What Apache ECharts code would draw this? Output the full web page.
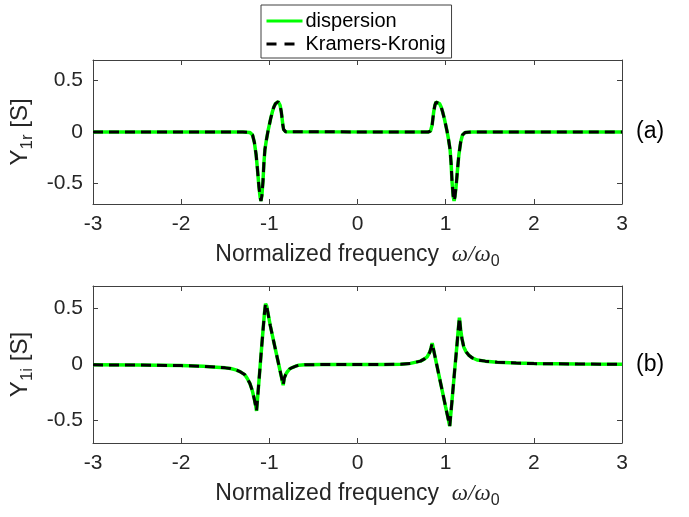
<!DOCTYPE html>
<html>
<head>
<meta charset="utf-8">
<script src="https://cdn.jsdelivr.net/npm/echarts@6/dist/echarts.min.js"></script>
<style>
  html, body { margin: 0; background: #fff; }
  #chart { width: 689px; height: 517px; }
</style>
</head>
<body>
<div id="chart"></div>
<script>
// tick labels
var xTicks = [-3, -2, -1, 0, 1, 2, 3];
var yTicks = [-0.5, 0, 0.5];

var topX = [-3, -1.3, -1.22, -1.19, -1.17, -1.15, -1.137, -1.118, -1.105, -1.095, -1.085, -1.072, -1.062, -1.05, -1.032, -1.015, -1.0, -0.985, -0.966, -0.95, -0.93, -0.91, -0.9, -0.89, -0.878, -0.865, -0.855, -0.847, -0.838, -0.828, -0.815, -0.8,
            0.8, 0.815, 0.828, 0.838, 0.847, 0.855, 0.865, 0.878, 0.89, 0.9, 0.91, 0.93, 0.95, 0.966, 0.985, 1.0, 1.015, 1.032, 1.05, 1.062, 1.072, 1.085, 1.095, 1.105, 1.118, 1.137, 1.15, 1.17, 1.19, 1.22, 1.3, 3];
var topY = [0, 0, -0.005, -0.03, -0.1, -0.22, -0.34, -0.53, -0.63, -0.67, -0.62, -0.48, -0.31, -0.17, -0.07, 0.01, 0.07, 0.13, 0.194, 0.24, 0.276, 0.293, 0.295, 0.29, 0.26, 0.2, 0.13, 0.07, 0.025, 0.008, 0.002, 0,
            0, 0.002, 0.008, 0.025, 0.07, 0.13, 0.2, 0.26, 0.29, 0.295, 0.293, 0.276, 0.24, 0.194, 0.13, 0.07, 0.01, -0.07, -0.17, -0.31, -0.48, -0.62, -0.67, -0.63, -0.53, -0.34, -0.22, -0.1, -0.03, -0.005, 0, 0];

// (b) imaginary part
var botX = [-3, -2.5, -2.0, -1.75, -1.6, -1.5, -1.44, -1.38, -1.327, -1.28, -1.25, -1.22, -1.194, -1.17, -1.155, -1.145, -1.12, -1.095, -1.07, -1.055, -1.043, -1.03, -0.99, -0.949, -0.9, -0.87, -0.843, -0.83, -0.815, -0.797, -0.77, -0.74, -0.7, -0.665, -0.6, -0.4,
            0.3, 0.49, 0.6, 0.714, 0.76, 0.79, 0.82, 0.835, 0.847, 0.9, 0.95, 1.0, 1.03, 1.046, 1.07, 1.1, 1.13, 1.145, 1.156, 1.17, 1.185, 1.205, 1.23, 1.262, 1.3, 1.357, 1.45, 1.584, 1.8, 2.0, 2.5, 3.0];
var botY = [-0.003, -0.005, -0.01, -0.016, -0.024, -0.03, -0.036, -0.048, -0.066, -0.09, -0.125, -0.17, -0.23, -0.31, -0.37, -0.413, -0.17, 0.08, 0.32, 0.46, 0.543, 0.52, 0.35, 0.2, 0.023, -0.085, -0.184, -0.12, -0.09, -0.066, -0.04, -0.027, -0.015, -0.006, -0.003, 0,
            0, 0.003, 0.01, 0.03, 0.05, 0.068, 0.11, 0.15, 0.19, -0.007, -0.193, -0.38, -0.49, -0.55, -0.34, -0.07, 0.19, 0.33, 0.418, 0.31, 0.23, 0.157, 0.115, 0.083, 0.06, 0.04, 0.03, 0.02, 0.013, 0.008, 0.004, 0.002];

function pairs(xs, ys) {
  return xs.map(function (x, i) { return [x, ys[i]]; });
}

var FONT = 'Liberation Sans';
var INK = '#262626';
var AXIS = '#404040';

function xAxes(grid) {
  var lineStyle = { color: AXIS, width: 1 };
  return [
    {
      gridIndex: grid, type: 'value', position: 'bottom',
      min: -3, max: 3, interval: 1,
      axisLine: { onZero: false, lineStyle: lineStyle },
      axisTick: { inside: true, length: 5, lineStyle: lineStyle },
      axisLabel: { margin: 10, color: INK, fontFamily: FONT, fontSize: 21 },
      splitLine: { show: false },
      name: 'Normalized frequency  {i|ω/ω}{s|0}',
      nameLocation: 'middle', nameGap: 36,
      nameTextStyle: {
        color: INK, fontFamily: FONT, fontSize: 23,
        rich: {
          i: { fontFamily: 'Liberation Serif', fontStyle: 'italic', fontSize: 23, color: INK },
          s: { fontFamily: FONT, fontSize: 16, color: INK, padding: [14, 0, 0, 0] }
        }
      }
    },
    {
      gridIndex: grid, type: 'value', position: 'top',
      min: -3, max: 3, interval: 1,
      axisLine: { onZero: false, lineStyle: lineStyle },
      axisTick: { inside: true, length: 5, lineStyle: lineStyle },
      axisLabel: { show: false },
      splitLine: { show: false }
    }
  ];
}

function yAxes(grid, sub) {
  var lineStyle = { color: AXIS, width: 1 };
  return [
    {
      gridIndex: grid, type: 'value', position: 'left',
      min: -0.7, max: 0.7,
      axisLine: { onZero: false, lineStyle: lineStyle },
      axisTick: { inside: true, length: 5, lineStyle: lineStyle, customValues: yTicks },
      axisLabel: { margin: 10, color: INK, fontFamily: FONT, fontSize: 21, customValues: yTicks },
      splitLine: { show: false },
      name: '{b|Y}{s|' + sub + '}{b| [S]}',
      nameLocation: 'middle', nameGap: 47, nameRotate: 90,
      nameTextStyle: {
        color: INK, fontFamily: FONT, fontSize: 24,
        rich: {
          b: { fontFamily: FONT, fontSize: 24, color: INK },
          s: { fontFamily: FONT, fontSize: 17, color: INK, padding: [14, 0, 0, 0] }
        }
      }
    },
    {
      gridIndex: grid, type: 'value', position: 'right',
      min: -0.7, max: 0.7,
      axisLine: { onZero: false, lineStyle: lineStyle },
      axisTick: { inside: true, length: 5, lineStyle: lineStyle, customValues: yTicks },
      axisLabel: { show: false },
      splitLine: { show: false }
    }
  ];
}

function curves(grid, xs, ys) {
  var data = pairs(xs, ys);
  return [
    {
      name: 'dispersion', type: 'line',
      xAxisIndex: grid * 2, yAxisIndex: grid * 2,
      data: data, symbol: 'none', silent: true,
      itemStyle: { color: '#00ff00' },
      lineStyle: { color: '#00ff00', width: 3.5 }
    },
    {
      name: 'Kramers-Kronig', type: 'line',
      xAxisIndex: grid * 2, yAxisIndex: grid * 2,
      data: data, symbol: 'none', silent: true,
      itemStyle: { color: '#000000' },
      lineStyle: { color: '#000000', width: 3, type: [10, 6] }
    }
  ];
}

var dom = document.getElementById('chart');
var myChart = echarts.init(dom, null, { renderer: 'canvas' });

var option = {
  animation: false,
  backgroundColor: '#ffffff',
  grid: [
    { left: 93, right: 67, top: 60, height: 144 },
    { left: 93, right: 67, top: 286, height: 157 }
  ],
  legend: {
    data: [
      { name: 'dispersion' },
      { name: 'Kramers-Kronig', lineStyle: { type: [10, 8], dashOffset: 0 } }
    ],
    orient: 'vertical',
    left: 261, top: 5,
    itemWidth: 36, itemHeight: 14, itemGap: 3,
    padding: [6, 6, 4, 4],
    borderColor: AXIS, borderWidth: 1,
    backgroundColor: '#ffffff',
    itemStyle: { opacity: 0 },
    lineStyle: { width: 3 },
    textStyle: { color: '#000', fontFamily: FONT, fontSize: 20, padding: [0, 0, 0, -2] }
  },
  xAxis: xAxes(0).concat(xAxes(1)),
  yAxis: yAxes(0, '1r').concat(yAxes(1, '1i')),
  series: curves(0, topX, topY).concat(curves(1, botX, botY)),
  graphic: [
    { type: 'text', x: 636, y: 132, style: { text: '(a)', font: '23px "Liberation Sans"', fill: '#000', verticalAlign: 'middle' } },
    { type: 'text', x: 636, y: 365, style: { text: '(b)', font: '23px "Liberation Sans"', fill: '#000', verticalAlign: 'middle' } }
  ]
};

myChart.setOption(option);
window.addEventListener('resize', myChart.resize);
</script>
</body>
</html>
